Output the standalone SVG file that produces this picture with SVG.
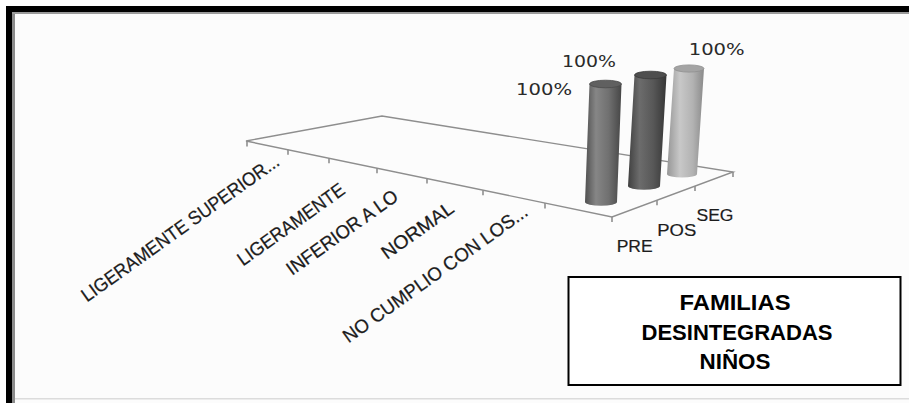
<svg xmlns="http://www.w3.org/2000/svg" width="909" height="403" viewBox="0 0 909 403">
  <defs>
    <style>
      .axis { fill: none; stroke: #8e8e8e; stroke-width: 1.4; }
      .tick { stroke: #8e8e8e; stroke-width: 1.6; }
      .cat { font-family: "Liberation Sans", Arial, sans-serif; font-size: 19px; fill: #1c1c1c; stroke: #1c1c1c; stroke-width: 0.25; }
      .ser { font-family: "Liberation Sans", Arial, sans-serif; font-size: 17px; fill: #1c1c1c; stroke: #1c1c1c; stroke-width: 0.2; }
      .val { font-family: "DejaVu Sans", Verdana, sans-serif; font-size: 15px; fill: #2a2a2a; text-anchor: middle; }
      .leg { font-family: "Liberation Sans", Arial, sans-serif; font-size: 22px; font-weight: bold; fill: #000; text-anchor: middle; }
    </style>
    <linearGradient id="g1" x1="0" y1="0" x2="1" y2="0">
      <stop offset="0" stop-color="#505050"/>
      <stop offset="0.3" stop-color="#868686"/>
      <stop offset="0.65" stop-color="#707070"/>
      <stop offset="1" stop-color="#464646"/>
    </linearGradient>
    <linearGradient id="g2" x1="0" y1="0" x2="1" y2="0">
      <stop offset="0" stop-color="#404040"/>
      <stop offset="0.3" stop-color="#6c6c6c"/>
      <stop offset="0.65" stop-color="#585858"/>
      <stop offset="1" stop-color="#363636"/>
    </linearGradient>
    <linearGradient id="g3" x1="0" y1="0" x2="1" y2="0">
      <stop offset="0" stop-color="#969696"/>
      <stop offset="0.35" stop-color="#c8c8c8"/>
      <stop offset="0.7" stop-color="#b2b2b2"/>
      <stop offset="1" stop-color="#8a8a8a"/>
    </linearGradient>
  </defs>

  <!-- background and frame -->
  <rect x="0" y="0" width="909" height="403" fill="#ffffff"/>
  <rect x="12" y="12" width="897" height="391" fill="#fcfcfc"/>
  <g id="frame">
    <rect x="6" y="6" width="903" height="6" fill="#000"/>
    <rect x="6" y="6" width="6" height="397" fill="#000"/>
    <rect x="12" y="12" width="3" height="391" fill="#8c8c8c"/>
    <rect x="12" y="12" width="897" height="2" fill="#9a9a9a"/>
    <rect x="15" y="398" width="894" height="1.5" fill="#dcdcdc"/>
  </g>

  <!-- floor -->
  <g id="floor">
    <polygon class="axis" points="246,141 382,116 733,172 612,217"/>
    <g class="ticks">
      <line class="tick" x1="247" y1="141" x2="247" y2="146.5"/>
      <line class="tick" x1="288" y1="149.7" x2="288" y2="154.7"/>
      <line class="tick" x1="329" y1="158.2" x2="329" y2="163.2"/>
      <line class="tick" x1="377" y1="168.2" x2="377" y2="173.2"/>
      <line class="tick" x1="427" y1="178.6" x2="427" y2="183.6"/>
      <line class="tick" x1="483" y1="190.2" x2="483" y2="195.2"/>
      <line class="tick" x1="545" y1="203.1" x2="545" y2="208.5"/>
      <line class="tick" x1="612" y1="217" x2="612" y2="222"/>
      <line class="tick" x1="657" y1="200.3" x2="657" y2="205.3"/>
      <line class="tick" x1="695" y1="186.1" x2="695" y2="191.1"/>
      <line class="tick" x1="733" y1="172" x2="733" y2="177"/>
    </g>
  </g>

  <!-- cylinders -->
  <g id="bar-pre">
    <path d="M589.5,84 L585,202 A16,3.8 0 0 0 617,202 L621.5,84 Z" fill="url(#g1)"/>
    <ellipse cx="605.5" cy="84" rx="16" ry="3.8" fill="#606060" stroke="#4a4a4a" stroke-width="0.8"/>
  </g>
  <g id="bar-pos">
    <path d="M634.5,75 L628,186 A16,3.8 0 0 0 660,186 L666.5,75 Z" fill="url(#g2)"/>
    <ellipse cx="650.5" cy="75" rx="16" ry="3.8" fill="#4e4e4e" stroke="#3a3a3a" stroke-width="0.8"/>
  </g>
  <g id="bar-seg">
    <path d="M674,68.5 L667,174 A15,3.6 0 0 0 697,174 L704,68.5 Z" fill="url(#g3)"/>
    <ellipse cx="689" cy="68.5" rx="15" ry="3.6" fill="#a4a4a4" stroke="#8f8f8f" stroke-width="0.8"/>
  </g>

  <!-- value labels -->
  <g id="values">
    <text class="val" x="544" y="94.5" textLength="56" lengthAdjust="spacingAndGlyphs">100%</text>
    <text class="val" x="589" y="66.7" textLength="54" lengthAdjust="spacingAndGlyphs">100%</text>
    <text class="val" x="716.7" y="54.5" textLength="56" lengthAdjust="spacingAndGlyphs">100%</text>
  </g>

  <!-- category labels -->
  <g id="categories">
    <text class="cat" transform="translate(87,302.5) rotate(-35.5)" textLength="238" lengthAdjust="spacingAndGlyphs">LIGERAMENTE SUPERIOR...</text>
    <text class="cat" transform="translate(243,266.5) rotate(-35.5)" textLength="127" lengthAdjust="spacingAndGlyphs">LIGERAMENTE</text>
    <text class="cat" transform="translate(292,276) rotate(-35.5)" textLength="132" lengthAdjust="spacingAndGlyphs">INFERIOR A LO</text>
    <text class="cat" transform="translate(387,260) rotate(-35.5)" textLength="84" lengthAdjust="spacingAndGlyphs">NORMAL</text>
    <text class="cat" transform="translate(348.5,343.5) rotate(-35.5)" textLength="222" lengthAdjust="spacingAndGlyphs">NO CUMPLIO CON LOS...</text>
  </g>

  <!-- series labels -->
  <g id="series">
    <text class="ser" x="616.7" y="252" textLength="36" lengthAdjust="spacingAndGlyphs">PRE</text>
    <text class="ser" x="657.3" y="236" textLength="39" lengthAdjust="spacingAndGlyphs">POS</text>
    <text class="ser" x="696.5" y="220.5" textLength="37" lengthAdjust="spacingAndGlyphs">SEG</text>
  </g>

  <!-- legend/title box -->
  <g id="title-box">
    <rect x="568.5" y="277" width="332" height="108" fill="#ffffff" stroke="#000" stroke-width="2"/>
    <text class="leg" x="735" y="309.5" textLength="111" lengthAdjust="spacingAndGlyphs">FAMILIAS</text>
    <text class="leg" x="737" y="339.5" textLength="191" lengthAdjust="spacingAndGlyphs">DESINTEGRADAS</text>
    <text class="leg" x="735" y="368.5" textLength="71" lengthAdjust="spacingAndGlyphs">NIÑOS</text>
  </g>
</svg>
